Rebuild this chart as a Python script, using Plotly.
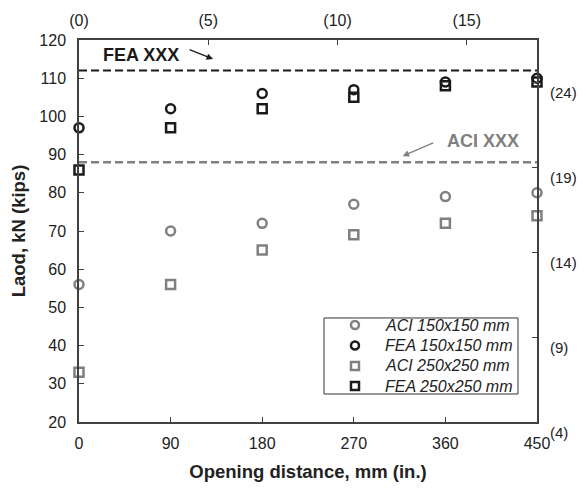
import plotly.graph_objects as go

opening_mm = [0, 90, 180, 270, 360, 450]
aci_150 = [56, 70, 72, 77, 79, 80]
fea_150 = [97, 102, 106, 107, 109, 110]
aci_250 = [33, 56, 65, 69, 72, 74]
fea_250 = [86, 97, 102, 105, 108, 109]
fea_limit = 112
aci_limit = 88

x_ticks = [0, 90, 180, 270, 360, 450]
y_ticks = [20, 30, 40, 50, 60, 70, 80, 90, 100, 110, 120]
top_in = [0, 5, 10, 15]
right_kips = [4, 9, 14, 19, 24]

GRAY = "#808080"
BLACK = "#1a1a1a"
AX = "#404040"
FONT = "Liberation Sans, Arial, sans-serif"

fig = go.Figure()

fig.add_trace(go.Scatter(x=[x_ticks[0], x_ticks[-1]], y=[fea_limit, fea_limit], mode="lines",
                         line=dict(color=BLACK, width=2, dash="8px,4px"), showlegend=False, hoverinfo="skip"))
fig.add_trace(go.Scatter(x=[x_ticks[0], x_ticks[-1]], y=[aci_limit, aci_limit], mode="lines",
                         line=dict(color=GRAY, width=2.5, dash="8px,4px"), showlegend=False, hoverinfo="skip"))

series = [
    ("ACI 150x150 mm", aci_150, "circle", GRAY),
    ("FEA 150x150 mm", fea_150, "circle", BLACK),
    ("ACI 250x250 mm", aci_250, "square", GRAY),
    ("FEA 250x250 mm", fea_250, "square", BLACK),
]
for name, vals, sym, col in series:
    fig.add_trace(go.Scatter(x=opening_mm, y=vals, mode="markers", name=name, showlegend=False,
                             marker=dict(symbol=sym + "-open", size=9, color=col,
                                         line=dict(color=col, width=2.5)),
                             cliponaxis=False))

fig.add_trace(go.Scatter(x=[0], y=[20], xaxis="x2", yaxis="y2", mode="markers",
                         marker=dict(opacity=0), showlegend=False, hoverinfo="skip"))

kn_per_kip = 4.448
right_pos = [20 + (k - right_kips[0]) * kn_per_kip for k in right_kips]

common = dict(ticks="inside", ticklen=5, tickcolor=AX, tickwidth=1.2, showline=True, linecolor=AX,
              linewidth=1.5, showgrid=False, zeroline=False, automargin=False)

fig.update_layout(
    width=578, height=483,
    margin=dict(l=71, r=49, t=32, b=69),
    plot_bgcolor="white", paper_bgcolor="white",
    font=dict(family=FONT, size=16, color="#222222"),
    showlegend=False,
    xaxis=dict(range=[0, 450], tickvals=x_ticks, ticklabelstandoff=6,
               title=dict(text="<b>Opening distance, mm (in.)</b>", font=dict(size=18.5), standoff=14),
               **common),
    yaxis=dict(range=[20, 120], tickvals=y_ticks, ticklabelstandoff=8,
               title=dict(text="<b>Laod, kN (kips)</b>", font=dict(size=18.5), standoff=12),
               **common),
    xaxis2=dict(overlaying="x", side="top", range=[0, 450], ticklabelstandoff=6,
                tickvals=[v * 25.4 for v in top_in], ticktext=[f"({v})" for v in top_in], **common),
    yaxis2=dict(overlaying="y", side="right", range=[20, 120],
                tickvals=right_pos, ticktext=[""] * len(right_pos), **common),
)

for k, pos in zip(right_kips, right_pos):
    fig.add_annotation(x=1, xref="paper", y=pos, yref="y", text=f"({k})", showarrow=False,
                       xanchor="left", yanchor="middle", xshift=11, yshift=-10,
                       font=dict(size=15, color="#222222"))

# manual legend box
leg_x0, leg_x1, leg_y0, leg_y1 = 0.535, 0.9585, 0.0733, 0.2723
fig.add_shape(type="rect", xref="paper", yref="paper", x0=leg_x0, x1=leg_x1, y0=leg_y0, y1=leg_y1,
              line=dict(color="#333333", width=1), fillcolor="white", layer="above")
row_y = [0.2539, 0.2003, 0.1466, 0.0942]
mk_x, txt_x = 0.6026, 0.6638
for (name, vals, sym, col), ry in zip(series, row_y):
    fig.add_shape(type="circle" if sym == "circle" else "rect", xref="paper", yref="paper",
                  xsizemode="pixel", ysizemode="pixel", xanchor=mk_x, yanchor=ry,
                  x0=-4, x1=4, y0=-4, y1=4, line=dict(color=col, width=2.5), layer="above")
    fig.add_annotation(x=txt_x, y=ry, xref="paper", yref="paper", text=name, showarrow=False,
                       xanchor="left", yanchor="middle",
                       font=dict(size=16, style="italic", color="#222222"))

fig.add_annotation(x=61, y=116.1, xref="x", yref="y", text="<b>FEA XXX</b>", showarrow=False,
                   font=dict(size=18, color=BLACK), xanchor="center", yanchor="middle")
fig.add_annotation(x=131.7, y=115, ax=-25, ay=-10, xref="x", yref="y", text="",
                   showarrow=True, arrowhead=2, arrowsize=1, arrowwidth=1.3, arrowcolor=BLACK)
fig.add_annotation(x=397, y=93.6, xref="x", yref="y", text="<b>ACI XXX</b>", showarrow=False,
                   font=dict(size=18, color=GRAY), xanchor="center", yanchor="middle")
fig.add_annotation(x=318, y=89.6, ax=32, ay=-14, xref="x", yref="y", text="",
                   showarrow=True, arrowhead=2, arrowsize=1, arrowwidth=1.3, arrowcolor=GRAY)

fig.write_html("out.html")
